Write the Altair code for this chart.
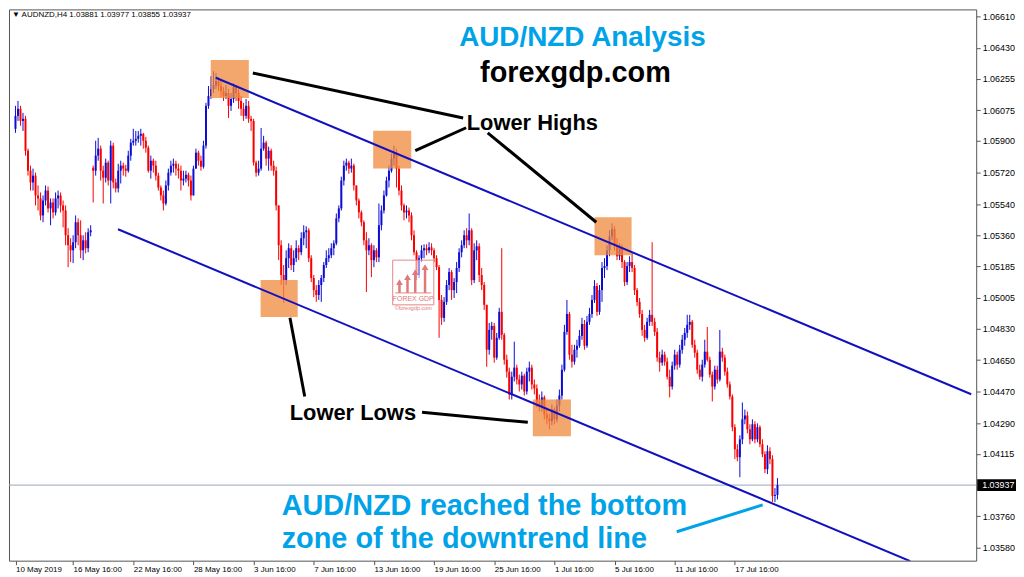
import json
import altair as alt
import pandas as pd

# ---------------- data (AUDNZD H4) ----------------
first_open = 1.05969
gap_opens = {31: 1.05747}  # weekend gap bar (20 May)

closes = [
    1.06043, 1.06083, 1.06014, 1.06026, 1.05844, 1.05730, 1.05663, 1.05702, 1.05589, 1.05572,
    1.05475, 1.05560, 1.05617, 1.05515, 1.05549, 1.05492, 1.05572, 1.05589, 1.05532, 1.05503,
    1.05362, 1.05305, 1.05276, 1.05322, 1.05436, 1.05362, 1.05276, 1.05333, 1.05288, 1.05379,
    1.05390, 1.05730, 1.05816, 1.05856, 1.05730, 1.05690, 1.05776, 1.05674, 1.05873, 1.05663,
    1.05629, 1.05730, 1.05759, 1.05742, 1.05730, 1.05816, 1.05890, 1.05901, 1.05912, 1.05929,
    1.05940, 1.05901, 1.05861, 1.05730, 1.05787, 1.05759, 1.05702, 1.05634, 1.05589, 1.05543,
    1.05646, 1.05719, 1.05759, 1.05770, 1.05742, 1.05730, 1.05674, 1.05685, 1.05707, 1.05674,
    1.05589, 1.05742, 1.05833, 1.05787, 1.05753, 1.05873, 1.06100, 1.06156, 1.06196, 1.06218,
    1.06241, 1.06213, 1.06184, 1.06156, 1.06173, 1.06100, 1.06139, 1.06207, 1.06173, 1.06128,
    1.06083, 1.06043, 1.06100, 1.06026, 1.06014, 1.05776, 1.05719, 1.05742, 1.05856, 1.05890,
    1.05799, 1.05844, 1.05759, 1.05730, 1.05532, 1.05305, 1.05135, 1.05106, 1.05231, 1.05288,
    1.05192, 1.05231, 1.05288, 1.05265, 1.05345, 1.05379, 1.05390, 1.05231, 1.05118, 1.05049,
    1.05021, 1.05078, 1.05118, 1.05192, 1.05231, 1.05248, 1.05288, 1.05316, 1.05458, 1.05515,
    1.05674, 1.05759, 1.05776, 1.05742, 1.05759, 1.05646, 1.05560, 1.05492, 1.05436, 1.05333,
    1.05276, 1.05305, 1.05220, 1.05276, 1.05236, 1.05419, 1.05503, 1.05589, 1.05674, 1.05730,
    1.05799, 1.05827, 1.05742, 1.05617, 1.05532, 1.05492, 1.05503, 1.05475, 1.05362, 1.05265,
    1.05135, 1.05231, 1.05276, 1.05288, 1.05276, 1.05293, 1.05276, 1.05231, 1.05180, 1.04993,
    1.04891, 1.04982, 1.05078, 1.05152, 1.05049, 1.05095, 1.05175, 1.05265, 1.05305, 1.05362,
    1.05333, 1.05390, 1.05106, 1.05276, 1.05299, 1.05135, 1.05078, 1.04965, 1.04709, 1.04822,
    1.04845, 1.04664, 1.04777, 1.04925, 1.04794, 1.04652, 1.04584, 1.04454, 1.04555, 1.04607,
    1.04539, 1.04511, 1.04561, 1.04471, 1.04584, 1.04607, 1.04511, 1.04488, 1.04408, 1.04385,
    1.04437, 1.04340, 1.04317, 1.04301, 1.04368, 1.04312, 1.04391, 1.04448, 1.04595, 1.04811,
    1.04913, 1.04681, 1.04641, 1.04709, 1.04732, 1.04788, 1.04856, 1.04732, 1.04868, 1.04913,
    1.04993, 1.05072, 1.04925, 1.05049, 1.05175, 1.05186, 1.05276, 1.05356, 1.05396, 1.05305,
    1.05242, 1.05293, 1.05209, 1.05095, 1.05186, 1.05209, 1.05175, 1.05049, 1.04982, 1.04913,
    1.04822, 1.04777, 1.04868, 1.04908, 1.04868, 1.04811, 1.04664, 1.04635, 1.04681, 1.04641,
    1.04555, 1.04499, 1.04618, 1.04681, 1.04624, 1.04709, 1.04766, 1.04805, 1.04851, 1.04868,
    1.04737, 1.04692, 1.04595, 1.04555, 1.04624, 1.04698, 1.04652, 1.04567, 1.04499, 1.04595,
    1.04539, 1.04698, 1.04664, 1.04584, 1.04511, 1.04442, 1.04267, 1.04141, 1.04096, 1.04198,
    1.04312, 1.04334, 1.04255, 1.04198, 1.04284, 1.04198, 1.04267, 1.04170, 1.04113, 1.04028,
    1.04130, 1.04085, 1.03875, 1.03881, 1.03937,
]

highs = [
    1.06100, 1.06128, 1.06100, 1.06060, 1.06043, 1.05856, 1.05759, 1.05742, 1.05719, 1.05646,
    1.05606, 1.05589, 1.05646, 1.05640, 1.05572, 1.05572, 1.05606, 1.05617, 1.05606, 1.05560,
    1.05532, 1.05402, 1.05345, 1.05362, 1.05475, 1.05458, 1.05447, 1.05362, 1.05379, 1.05402,
    1.05419, 1.05759, 1.05901, 1.05917, 1.05873, 1.05759, 1.05799, 1.05787, 1.05901, 1.05890,
    1.05685, 1.05770, 1.05787, 1.05776, 1.05764, 1.05844, 1.05912, 1.05969, 1.05957, 1.05957,
    1.05969, 1.05946, 1.05923, 1.05873, 1.05816, 1.05799, 1.05787, 1.05719, 1.05646, 1.05617,
    1.05674, 1.05742, 1.05787, 1.05799, 1.05787, 1.05770, 1.05759, 1.05730, 1.05730, 1.05719,
    1.05702, 1.05759, 1.05856, 1.05844, 1.05816, 1.05901, 1.06117, 1.06213, 1.06270, 1.06298,
    1.06287, 1.06264, 1.06241, 1.06207, 1.06218, 1.06196, 1.06173, 1.06230, 1.06218, 1.06196,
    1.06156, 1.06117, 1.06139, 1.06128, 1.06043, 1.06026, 1.05787, 1.05787, 1.05974, 1.05929,
    1.05901, 1.05867, 1.05856, 1.05787, 1.05753, 1.05532, 1.05333, 1.05192, 1.05276, 1.05316,
    1.05305, 1.05276, 1.05333, 1.05305, 1.05379, 1.05419, 1.05413, 1.05402, 1.05248, 1.05135,
    1.05078, 1.05106, 1.05135, 1.05209, 1.05276, 1.05288, 1.05316, 1.05333, 1.05486, 1.05532,
    1.05696, 1.05787, 1.05799, 1.05787, 1.05799, 1.05770, 1.05646, 1.05572, 1.05503, 1.05447,
    1.05379, 1.05345, 1.05316, 1.05305, 1.05288, 1.05543, 1.05532, 1.05617, 1.05696, 1.05759,
    1.05827, 1.05873, 1.05856, 1.05759, 1.05646, 1.05543, 1.05532, 1.05520, 1.05492, 1.05390,
    1.05276, 1.05248, 1.05305, 1.05310, 1.05310, 1.05322, 1.05316, 1.05288, 1.05248, 1.05192,
    1.05021, 1.05009, 1.05106, 1.05175, 1.05163, 1.05118, 1.05209, 1.05288, 1.05333, 1.05390,
    1.05402, 1.05486, 1.05402, 1.05316, 1.05333, 1.05316, 1.05175, 1.05095, 1.04965, 1.04862,
    1.04868, 1.04862, 1.04805, 1.04948, 1.05288, 1.04805, 1.04681, 1.04607, 1.04584, 1.04755,
    1.04624, 1.04567, 1.04584, 1.04572, 1.04607, 1.04641, 1.04624, 1.04539, 1.04511, 1.04454,
    1.04471, 1.04448, 1.04380, 1.04345, 1.04397, 1.04380, 1.04425, 1.04482, 1.04624, 1.04851,
    1.04993, 1.04925, 1.04737, 1.04737, 1.04766, 1.04822, 1.04891, 1.04879, 1.04902, 1.04948,
    1.05021, 1.05106, 1.05089, 1.05078, 1.05209, 1.05231, 1.05305, 1.05390, 1.05430, 1.05413,
    1.05345, 1.05316, 1.05310, 1.05220, 1.05209, 1.05242, 1.05265, 1.05192, 1.05061, 1.05004,
    1.04936, 1.04851, 1.04891, 1.04936, 1.05322, 1.04891, 1.04833, 1.04698, 1.04709, 1.04698,
    1.04664, 1.04595, 1.04641, 1.04709, 1.04698, 1.04737, 1.04794, 1.04833, 1.04908, 1.04908,
    1.04879, 1.04766, 1.04709, 1.04624, 1.04652, 1.04766, 1.04839, 1.04669, 1.04584, 1.04618,
    1.04618, 1.04822, 1.04720, 1.04681, 1.04607, 1.04528, 1.04454, 1.04284, 1.04170, 1.04221,
    1.04408, 1.04368, 1.04357, 1.04284, 1.04312, 1.04301, 1.04289, 1.04278, 1.04198, 1.04130,
    1.04164, 1.04153, 1.04107, 1.03920, 1.03977,
]

lows = [
    1.05946, 1.06014, 1.05986, 1.05957, 1.05816, 1.05702, 1.05617, 1.05617, 1.05532, 1.05503,
    1.05447, 1.05436, 1.05532, 1.05492, 1.05419, 1.05458, 1.05475, 1.05515, 1.05492, 1.05407,
    1.05305, 1.05180, 1.05209, 1.05203, 1.05288, 1.05305, 1.05231, 1.05220, 1.05259, 1.05265,
    1.05356, 1.05549, 1.05702, 1.05787, 1.05674, 1.05543, 1.05663, 1.05646, 1.05543, 1.05629,
    1.05606, 1.05606, 1.05657, 1.05702, 1.05696, 1.05719, 1.05787, 1.05873, 1.05873, 1.05890,
    1.05873, 1.05856, 1.05833, 1.05719, 1.05685, 1.05719, 1.05674, 1.05617, 1.05560, 1.05503,
    1.05532, 1.05617, 1.05702, 1.05719, 1.05702, 1.05685, 1.05617, 1.05646, 1.05663, 1.05640,
    1.05560, 1.05589, 1.05742, 1.05759, 1.05730, 1.05742, 1.05856, 1.06083, 1.06139, 1.06173,
    1.06196, 1.06184, 1.06150, 1.06128, 1.06139, 1.06031, 1.06071, 1.06117, 1.06128, 1.06083,
    1.06043, 1.06014, 1.06026, 1.06003, 1.05957, 1.05759, 1.05696, 1.05702, 1.05730, 1.05844,
    1.05759, 1.05730, 1.05730, 1.05702, 1.05503, 1.05220, 1.05078, 1.04976, 1.05078, 1.05175,
    1.05163, 1.05152, 1.05209, 1.05220, 1.05248, 1.05305, 1.05288, 1.05209, 1.05095, 1.05009,
    1.04982, 1.04993, 1.04982, 1.05095, 1.05175, 1.05209, 1.05231, 1.05248, 1.05305, 1.05436,
    1.05503, 1.05646, 1.05730, 1.05713, 1.05719, 1.05617, 1.05532, 1.05458, 1.05413, 1.05305,
    1.05038, 1.05248, 1.05123, 1.05180, 1.05209, 1.05209, 1.05390, 1.05486, 1.05583, 1.05634,
    1.05719, 1.05759, 1.05634, 1.05589, 1.05503, 1.05447, 1.05458, 1.05436, 1.05333, 1.05248,
    1.05106, 1.05118, 1.05209, 1.05231, 1.05248, 1.05259, 1.05248, 1.05209, 1.05163, 1.04777,
    1.04851, 1.04868, 1.04965, 1.05049, 1.04993, 1.05004, 1.05032, 1.05152, 1.05236, 1.05288,
    1.05288, 1.05305, 1.05078, 1.05089, 1.05220, 1.05095, 1.05049, 1.04936, 1.04612, 1.04681,
    1.04766, 1.04635, 1.04652, 1.04766, 1.04766, 1.04624, 1.04550, 1.04425, 1.04425, 1.04528,
    1.04511, 1.04471, 1.04482, 1.04448, 1.04454, 1.04528, 1.04482, 1.04454, 1.04380, 1.04357,
    1.04357, 1.04312, 1.04284, 1.04255, 1.04278, 1.04284, 1.04295, 1.04357, 1.04425, 1.04584,
    1.04794, 1.04652, 1.04607, 1.04624, 1.04664, 1.04720, 1.04766, 1.04709, 1.04720, 1.04851,
    1.04891, 1.04976, 1.04902, 1.04908, 1.04982, 1.05118, 1.05163, 1.05242, 1.05333, 1.05276,
    1.05220, 1.05220, 1.05175, 1.05072, 1.05078, 1.05152, 1.05152, 1.05021, 1.04959, 1.04891,
    1.04788, 1.04755, 1.04766, 1.04845, 1.04845, 1.04788, 1.04641, 1.04584, 1.04618, 1.04618,
    1.04539, 1.04437, 1.04482, 1.04595, 1.04595, 1.04607, 1.04686, 1.04732, 1.04777, 1.04822,
    1.04720, 1.04664, 1.04572, 1.04539, 1.04528, 1.04607, 1.04641, 1.04550, 1.04414, 1.04482,
    1.04516, 1.04528, 1.04641, 1.04561, 1.04493, 1.04425, 1.04244, 1.04085, 1.04073, 1.03982,
    1.04170, 1.04284, 1.04232, 1.04170, 1.04187, 1.04175, 1.04181, 1.04153, 1.04096, 1.04005,
    1.04000, 1.04056, 1.03841, 1.03840, 1.03855,
]

tick_bars = [0, 23, 47, 71, 95, 119, 143, 167, 191, 215, 239, 263, 287]
tick_labels = ["10 May 2019", "16 May 16:00", "22 May 16:00", "28 May 16:00",
               "3 Jun 16:00", "7 Jun 16:00", "13 Jun 16:00", "19 Jun 16:00",
               "25 Jun 16:00", "1 Jul 16:00", "5 Jul 16:00", "11 Jul 16:00",
               "17 Jul 16:00"]
price_ticks = [1.06610, 1.06430, 1.06255, 1.06075, 1.05900, 1.05720, 1.05540,
               1.05360, 1.05185, 1.05005, 1.04830, 1.04650, 1.04470, 1.04290,
               1.04115, 1.03760, 1.03580]
last_price = 1.03937
header_text = "\u25BC AUDNZD,H4  1.03881 1.03977 1.03855 1.03937"

# channel lines: (id, bar, price)
trend_id = ["upper", "upper", "lower", "lower"]
trend_bar = [79.9, 381.3, 40.9, 357.0]
trend_price = [1.06260, 1.04455, 1.05396, 1.03503]

# highlight boxes (bar0, bar1, price_top, price_bottom)
box_b0 = [77.9, 142.7, 231.0, 97.8, 206.4]
box_b1 = [93.1, 157.9, 245.8, 112.6, 221.6]
box_p0 = [1.06361, 1.05958, 1.05464, 1.05106, 1.04425]
box_p1 = [1.06145, 1.05742, 1.05248, 1.04896, 1.04215]

# black pointer lines
ptr_id = ["a", "a", "b", "b", "c", "c", "d", "d", "e", "e"]
ptr_bar = [94.7, 178.6, 159.5, 179.8, 188.4, 231.7, 109.5, 115.4, 162.2, 204.4]
ptr_price = [1.06287, 1.06031, 1.05844, 1.05975, 1.05946, 1.05436,
             1.04891, 1.04442, 1.04352, 1.04295]

# blue callout line
call_bar = [263.8, 298.1]
call_price = [1.03671, 1.03824]

# logo (FOREX GDP watermark)
logo_b0, logo_b1 = 150.5, 166.9
logo_p0, logo_p1 = 1.05220, 1.04965
arrow_bar = [153.2, 156.4, 159.5, 163.4]
arrow_top = [1.05095, 1.05123, 1.05152, 1.05180]
arrow_base = 1.05033

# ---------------- build ----------------
n = len(closes)
assert len(highs) == n and len(lows) == n
opens = [first_open] + closes[:-1]
for k, v in gap_opens.items():
    opens[k] = v
df = pd.DataFrame({"bar": list(range(n)), "open": opens, "high": highs,
                   "low": lows, "close": closes})
df["dir"] = ["up" if c >= o else "down" for o, c in zip(opens, closes)]

W, H = 972, 554
X_DOMAIN = [-0.6, 381.3]
Y_DOMAIN = [1.03506, 1.06650]

BLUE = "#0c0cd4"
RED = "#f80000"
TREND = "#1010c0"
ORANGE = "#f08a3c"
LBLUE = "#00a2e8"
FONT = "Liberation Sans"

label_expr = "{}[indexof({}, datum.value)]".format(json.dumps(tick_labels), json.dumps(tick_bars))
xaxis = alt.Axis(values=tick_bars, labelExpr=label_expr, labelAlign="left",
                 labelBaseline="top", labelFlush=False, labelPadding=1,
                 tickSize=4, tickColor="#555", domain=False, grid=False,
                 labelFont=FONT, labelFontSize=8, labelColor="#000",
                 labelOverlap=False, labelBound=False, title=None)
yaxis = alt.Axis(orient="right", values=price_ticks, format=".5f", tickSize=4,
                 tickColor="#555", labelPadding=2, domain=False, grid=False,
                 labelFont=FONT, labelFontSize=9, labelColor="#000",
                 labelOverlap=False, labelFlush=False, title=None)
xs = alt.Scale(domain=X_DOMAIN, nice=False, zero=False)
ys = alt.Scale(domain=Y_DOMAIN, nice=False, zero=False)


def X(f):
    return alt.X(f, type="quantitative", scale=xs, axis=xaxis)


def Y(f):
    return alt.Y(f, type="quantitative", scale=ys, axis=yaxis)


color = alt.Color("dir:N", scale=alt.Scale(domain=["up", "down"], range=[BLUE, RED]), legend=None)

price_line = alt.Chart(pd.DataFrame({"p": [last_price]})).mark_rule(
    color="#9ba6b8", strokeWidth=1).encode(y=Y("p"))

wicks = alt.Chart(df).mark_rule(strokeWidth=1).encode(
    x=X("bar"), y=Y("low"), y2="high", color=color)
bodies = alt.Chart(df).mark_bar(size=2).encode(
    x=X("bar"), y=Y("open"), y2="close", color=color)

boxes = alt.Chart(pd.DataFrame({"b0": box_b0, "b1": box_b1, "p0": box_p0, "p1": box_p1})).mark_rect(
    color=ORANGE, opacity=0.75).encode(x=X("b0"), x2="b1", y=Y("p0"), y2="p1")

trend = alt.Chart(pd.DataFrame({"id": trend_id, "bar": trend_bar, "price": trend_price})).mark_line(
    color=TREND, strokeWidth=2, clip=True).encode(x=X("bar"), y=Y("price"), detail="id:N")

pointers = alt.Chart(pd.DataFrame({"id": ptr_id, "bar": ptr_bar, "price": ptr_price})).mark_line(
    color="#000", strokeWidth=3).encode(x=X("bar"), y=Y("price"), detail="id:N")

callout = alt.Chart(pd.DataFrame({"bar": call_bar, "price": call_price})).mark_line(
    color=LBLUE, strokeWidth=3).encode(x=X("bar"), y=Y("price"))

# logo
logo_box = alt.Chart(pd.DataFrame({"b0": [logo_b0], "b1": [logo_b1], "p0": [logo_p0], "p1": [logo_p1]})).mark_rect(
    fill="#ffffff", fillOpacity=0.55, stroke="#e58585", strokeWidth=1).encode(
    x=X("b0"), x2="b1", y=Y("p0"), y2="p1")
logo_sep = alt.Chart(pd.DataFrame({"b0": [logo_b0 + 1], "b1": [logo_b1 - 1], "p": [arrow_base]})).mark_rule(
    color="#e58585", strokeWidth=1).encode(x=X("b0"), x2="b1", y=Y("p"))
logo_df = pd.DataFrame({"bar": arrow_bar, "top": arrow_top, "base": [arrow_base] * 4})
logo_stems = alt.Chart(logo_df).mark_rule(color="#e07a7a", strokeWidth=2.5).encode(
    x=X("bar"), y=Y("base"), y2="top")
logo_heads = alt.Chart(logo_df).mark_point(shape="triangle-up", filled=True, size=45,
                                           color="#e07a7a", opacity=1).encode(x=X("bar"), y=Y("top"))
logo_txt = alt.Chart(pd.DataFrame({"bar": [158.7], "p": [1.04985], "t": ["FOREX GDP"]})).mark_text(
    font=FONT, fontSize=7, color="#e07a7a", baseline="alphabetic").encode(x=X("bar"), y=Y("p"), text="t:N")
logo_url = alt.Chart(pd.DataFrame({"bar": [158.7], "p": [1.04936], "t": ["\u00a9forexgdp.com"]})).mark_text(
    font=FONT, fontSize=5.5, color="#e07a7a", baseline="alphabetic").encode(x=X("bar"), y=Y("p"), text="t:N")


def label(bar, price, txt, size, col, align="center"):
    d = pd.DataFrame({"bar": [bar], "p": [price], "t": [txt]})
    return alt.Chart(d).mark_text(font=FONT, fontWeight="bold", fontSize=size, color=col,
                                  align=align, baseline="alphabetic").encode(
        x=X("bar"), y=Y("p"), text="t:N")


texts = [
    label(226.2, 1.06440, "AUD/NZD Analysis", 28, LBLUE),
    label(223.4, 1.06236, "forexgdp.com", 29, "#000"),
    label(206.2, 1.05963, "Lower Highs", 22, "#000"),
    label(134.6, 1.04306, "Lower Lows", 22, "#000"),
    label(106.2, 1.03767, "AUD/NZD reached the bottom", 29, LBLUE, "left"),
    label(106.2, 1.03580, "zone of the downtrend line", 29, LBLUE, "left"),
]

pl_df = pd.DataFrame({"p": [last_price], "pt": [last_price + 0.00034], "pb": [last_price - 0.00034],
                      "t": ["%.5f" % last_price]})
price_box = alt.Chart(pl_df).mark_rect(color="#000", clip=False).encode(
    x=alt.value(W + 1), x2=alt.value(W + 40), y=Y("pt"), y2="pb")
price_txt = alt.Chart(pl_df).mark_text(font=FONT, fontSize=9, color="#fff", align="left",
                                       baseline="middle").encode(
    x=alt.value(W + 6), y=Y("p"), text="t:N")

header = alt.Chart(pd.DataFrame({"t": [header_text]})).mark_text(
    font=FONT, fontSize=8, color="#000", align="left", baseline="middle").encode(
    x=alt.value(3), y=alt.value(6), text="t:N")

chart = alt.layer(
    price_line, wicks, bodies, boxes, trend, pointers, callout,
    logo_box, logo_sep, logo_stems, logo_heads, logo_txt, logo_url,
    *texts, price_box, price_txt, header
).properties(width=W, height=H, padding=0, background="#ffffff").configure_view(
    stroke="#555", strokeWidth=1)

chart.save("out.html", embed_options={"renderer": "svg", "actions": False})
